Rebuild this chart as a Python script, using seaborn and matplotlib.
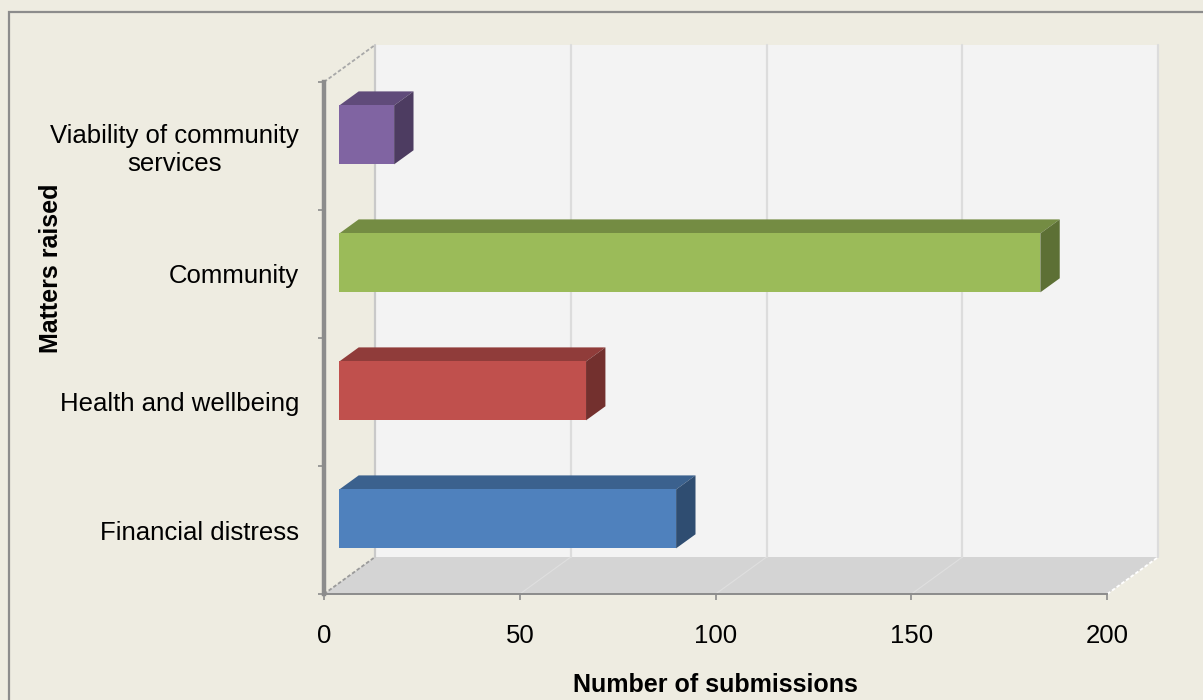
import matplotlib
matplotlib.use("Agg")
import matplotlib.pyplot as plt
import seaborn as sns
import numpy as np
from matplotlib.patches import Polygon, Rectangle
from matplotlib.lines import Line2D
from matplotlib.colors import to_rgb

# ---- data -------------------------------------------------------------
categories = ["Viability of community\nservices", "Community",
              "Health and wellbeing", "Financial distress"]
submissions = [14, 179, 63, 86]
bar_colors = ["#8064A2", "#9BBB59", "#C0504D", "#4F81BD"]
x_ticks = [0, 50, 100, 150, 200]
x_label = "Number of submissions"
y_label = "Matters raised"

# ---- layout / style ---------------------------------------------------
W, H, DPI = 1203, 700, 100
DEPTH = np.array([51.0, 37.0])   # oblique depth of the plot box (px right, px up)
BAR_NEAR, BAR_FAR = 0.30, 0.68   # depth slice occupied by the bars
AXIS_GREY = "#8C8C8C"
TICK_FS = 18.5

sns.set_theme(style="white")
plt.rcParams["font.family"] = ["Liberation Sans", "DejaVu Sans"]

fig = plt.figure(figsize=(W / DPI, H / DPI), dpi=DPI, facecolor="#EEECE1")
ax = fig.add_axes([324 / W, 106 / H, 783.3 / W, 512 / H])
ax.set_facecolor("none")

sns.barplot(x=submissions, y=categories, hue=categories, palette=bar_colors,
            orient="h", width=0.46, saturation=1, legend=False, ax=ax,
            zorder=4, linewidth=0)
ax.set_xlim(0, 200)
ax.set_ylim(3.5, -0.5)


def shifted(points, frac):
    """Move data points back into the box by a fraction of its depth."""
    pts = np.atleast_2d(np.asarray(points, dtype=float))
    disp = ax.transData.transform(pts) + DEPTH * frac
    return ax.transData.inverted().transform(disp)


x0, x1 = ax.get_xlim()
y_bot, y_top = ax.get_ylim()  # 3.5 (bottom), -0.5 (top)

# back wall
wall = shifted([(x0, y_bot), (x1, y_bot), (x1, y_top), (x0, y_top)], 1.0)
ax.add_patch(Polygon(wall, closed=True, facecolor="#F3F3F3", edgecolor="none",
                     zorder=0, clip_on=False))
# floor
floor = np.vstack([[(x0, y_bot), (x1, y_bot)],
                   shifted([(x1, y_bot), (x0, y_bot)], 1.0)])
ax.add_patch(Polygon(floor, closed=True, facecolor="#D4D4D4", edgecolor="none",
                     zorder=0.5, clip_on=False))

# wall gridlines and floor diagonals
for xv in x_ticks:
    seg = shifted([(xv, y_bot), (xv, y_top)], 1.0)
    col = "#C9C9C9" if xv == x0 else "#DCDCDC"
    ax.add_line(Line2D(seg[:, 0], seg[:, 1], color=col, lw=1.6,
                       zorder=1, clip_on=False))
    if x0 < xv < x1:
        d = np.vstack([[(xv, y_bot)], shifted([(xv, y_bot)], 1.0)])
        ax.add_line(Line2D(d[:, 0], d[:, 1], color="#DFDFDF", lw=0.8,
                           zorder=1, clip_on=False))

# box edges running into depth
for (px, py), col in [((x0, y_top), "#A8A8A8"), ((x0, y_bot), "#9A9A9A"),
                      ((x1, y_bot), "#FFFFFF")]:
    d = np.vstack([[(px, py)], shifted([(px, py)], 1.0)])
    ax.add_line(Line2D(d[:, 0], d[:, 1], color=col, lw=1.3, ls=(0, (2, 1.2)),
                       zorder=1.2, clip_on=False))

# 3-D bars: move the front face back, then add top and side faces
d_near = shifted([(0, 0)], BAR_NEAR)[0] - shifted([(0, 0)], 0.0)[0]
for patch in list(ax.patches):
    if not hasattr(patch, "get_width") or patch.get_zorder() != 4:
        continue
    bx, by = patch.get_x(), patch.get_y()
    bw, bh = patch.get_width(), patch.get_height()
    rgb = np.array(to_rgb(patch.get_facecolor()))
    top_pts = np.vstack([shifted([(bx, by), (bx + bw, by)], BAR_NEAR),
                         shifted([(bx + bw, by), (bx, by)], BAR_FAR)])
    side_pts = np.vstack([shifted([(bx + bw, by), (bx + bw, by + bh)], BAR_NEAR),
                          shifted([(bx + bw, by + bh), (bx + bw, by)], BAR_FAR)])
    ax.add_patch(Polygon(top_pts, closed=True, facecolor=rgb * 0.75,
                         edgecolor="none", zorder=3.5, clip_on=False))
    ax.add_patch(Polygon(side_pts, closed=True, facecolor=rgb * 0.60,
                         edgecolor="none", zorder=3.5, clip_on=False))
    patch.set_x(bx + d_near[0])
    patch.set_y(by + d_near[1])
    patch.set_clip_on(False)

# axes lines and ticks
for side in ("top", "right"):
    ax.spines[side].set_visible(False)
ax.spines["left"].set_color(AXIS_GREY)
ax.spines["left"].set_linewidth(3.2)
ax.spines["bottom"].set_color(AXIS_GREY)
ax.spines["bottom"].set_linewidth(1.4)
ax.spines["left"].set_zorder(5)
ax.spines["bottom"].set_zorder(5)

ax.set_xticks(x_ticks)
ax.set_xticklabels([str(t) for t in x_ticks])
ax.tick_params(axis="x", which="major", bottom=True, direction="out",
               length=4.5, width=1.2, color=AXIS_GREY, labelsize=TICK_FS,
               labelcolor="black", pad=17)
ax.set_yticks(np.arange(-0.5, 4.0, 1.0), minor=True)
ax.tick_params(axis="y", which="minor", left=True, direction="out",
               length=4.5, width=1.2, color=AXIS_GREY)
ax.tick_params(axis="y", which="major", left=True, length=0, labelsize=TICK_FS,
               labelcolor="black", pad=18)
for lbl in ax.get_yticklabels():
    lbl.set_multialignment("center")

ax.set_xlabel(x_label, fontsize=18, fontweight="bold", color="black", va="center")
ax.xaxis.set_label_coords(0.5, -0.177)
ax.set_ylabel(y_label, fontsize=18, fontweight="bold", color="black",
              va="center", ha="center")
ax.yaxis.set_label_coords(-0.348, 0.637)

# chart-area frame
fig.patches.append(Rectangle((8.5 / W, -0.1), 1.2, (H - 11.5) / H + 0.1,
                             transform=fig.transFigure, fill=False,
                             edgecolor=AXIS_GREY, lw=1.6, zorder=10))

fig.savefig("out.png", dpi=DPI, facecolor=fig.get_facecolor())
